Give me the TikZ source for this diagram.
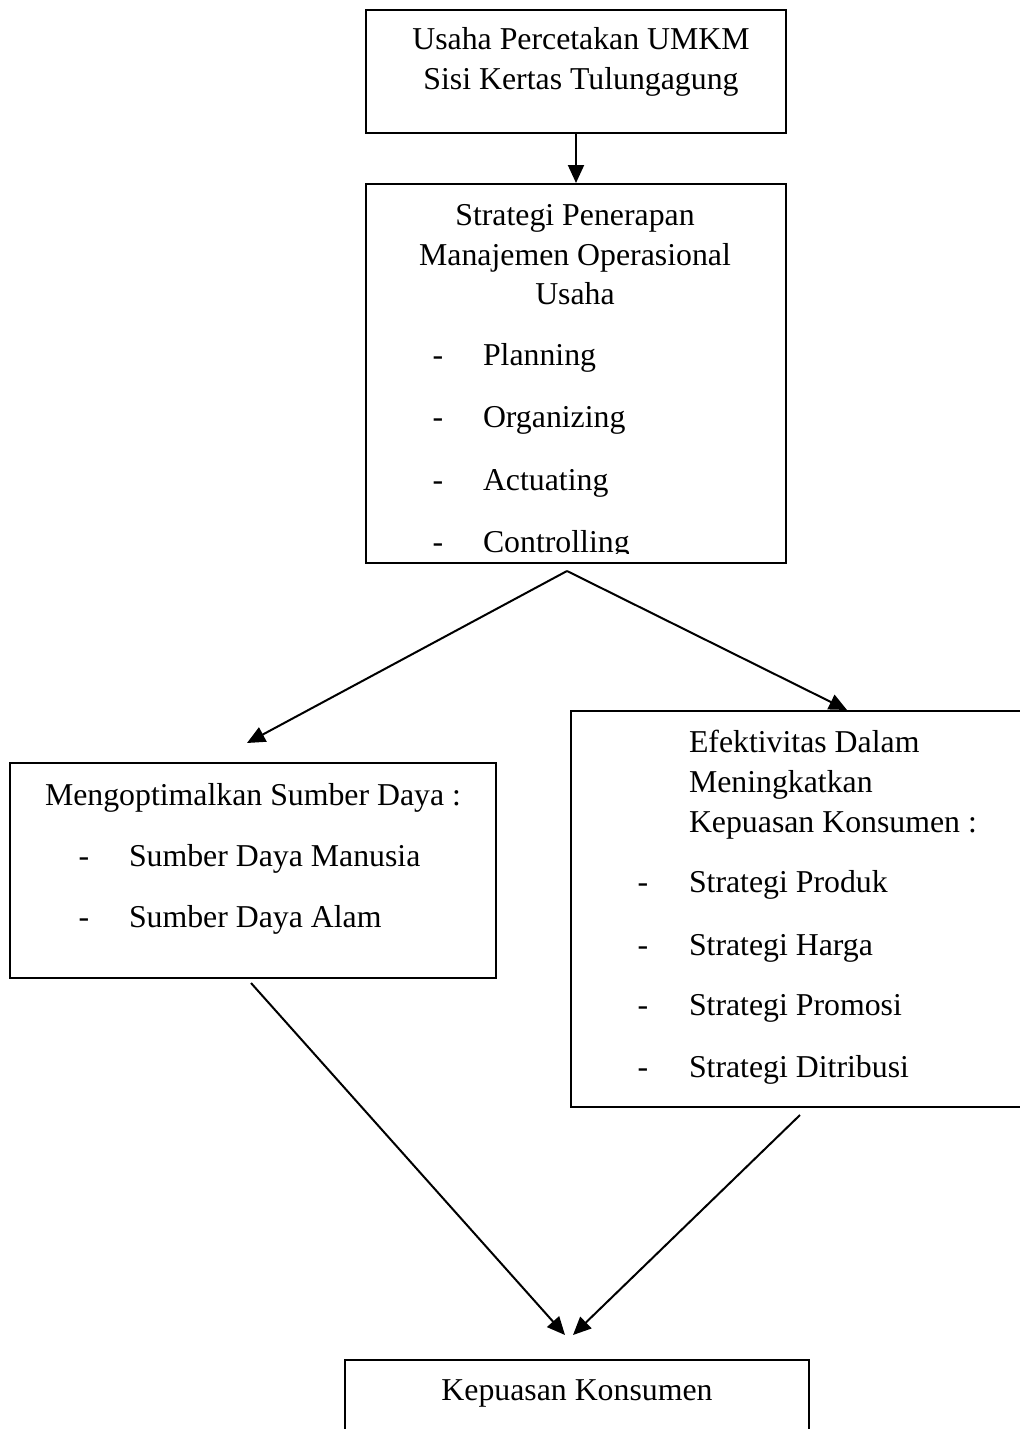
\documentclass[tikz,border=0pt]{standalone}
\usepackage{fontspec}
\setmainfont{Liberation Serif}
\usetikzlibrary{arrows.meta}

\begin{document}
\begin{tikzpicture}[x=0.5pt,y=-0.5pt,>={Triangle[length=9pt,width=8pt]},line width=1pt,
  box/.style={draw,line width=1pt,inner sep=0pt},
  txt/.style={font=\fontsize{15.9}{20}\selectfont,inner sep=0pt,anchor=base},
  item/.style={txt,anchor=base west}]
  \useasboundingbox (0,0) rectangle (1020,1429);
  \clip (0,0) rectangle (1020,1429);

  % boxes
  \node[box,minimum width=210pt,minimum height=61.5pt] (usaha) at (576,71.5) {};
  \node[box,minimum width=210pt,minimum height=189.5pt] (strategi) at (576,373.5) {};
  \node[box,minimum width=243pt,minimum height=107.5pt] (sumber) at (253,870.5) {};
  \node[box,minimum width=234.5pt,minimum height=198pt] (efektif) at (805.5,909) {};
  \node[box,minimum width=232pt,minimum height=60pt] (kepuasan) at (577,1420) {};

  % box texts
  \node[txt] (usaha1) at (581,50) {Usaha Percetakan UMKM};
  \node[txt] (usaha2) at (581,90) {Sisi Kertas Tulungagung};

  \node[txt] (strat1) at (575,225) {Strategi Penerapan};
  \node[txt] (strat2) at (575,265) {Manajemen Operasional};
  \node[txt] (strat3) at (575,304) {Usaha};
  \begin{scope}
    \clip (366,185) rectangle (785,553);
    \foreach \lbl/\yy [count=\i] in {Planning/365,Organizing/427,Actuating/490,Controlling/552} {
      \node[txt] (sdash\i) at (438,\yy) {-};
      \node[item] (sitem\i) at (482,\yy) {\lbl};
    }
  \end{scope}

  \node[txt] (sumber1) at (253,805) {Mengoptimalkan Sumber Daya :};
  \foreach \lbl/\yy [count=\i] in {Sumber Daya Manusia/866,Sumber Daya Alam/927} {
    \node[txt] (mdash\i) at (84,\yy) {-};
    \node[item] (mitem\i) at (128,\yy) {\lbl};
  }

  \node[item] (efek1) at (688,752) {Efektivitas Dalam};
  \node[item] (efek2) at (688,792) {Meningkatkan};
  \node[item] (efek3) at (688,832) {Kepuasan Konsumen :};
  \foreach \lbl/\yy [count=\i] in {Strategi Produk/892,Strategi Harga/955,Strategi Promosi/1015,Strategi Ditribusi/1077} {
    \node[txt] (edash\i) at (643,\yy) {-};
    \node[item] (eitem\i) at (688,\yy) {\lbl};
  }

  \node[txt] (kep1) at (577,1400) {Kepuasan Konsumen};

  % connector ends
  \coordinate (fork) at (567,571);
  \coordinate (tipL) at (247,743);
  \coordinate (tipR) at (847,710);
  \coordinate (outL) at (251,983);
  \coordinate (outR) at (800,1115);
  \coordinate (inL) at (565,1335);
  \coordinate (inR) at (573,1335);

  % connectors
  \draw[->] (usaha) -- (strategi);
  \draw[->] (fork) -- (tipL);
  \draw[->] (fork) -- (tipR);
  \draw[->] (outL) -- (inL);
  \draw[->] (outR) -- (inR);
\end{tikzpicture}
\end{document}
